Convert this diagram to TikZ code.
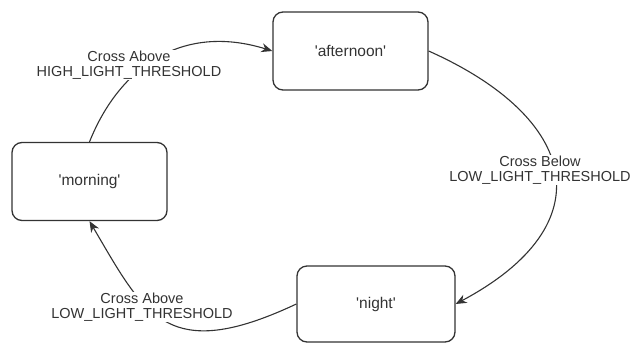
\documentclass[tikz,border=0pt]{standalone}
\usepackage{fontspec}
\setmainfont{Liberation Sans}
\usetikzlibrary{arrows.meta}
\definecolor{ink}{HTML}{333333}
\newcommand{\sq}{\textquotesingle}
\begin{document}
\begin{tikzpicture}[x=1pt,y=-1pt,
  state/.style={draw=ink, line width=1.3pt, rounded corners=10pt,
    minimum width=155pt, minimum height=78pt, inner sep=0pt,
    text=ink, font=\fontsize{15.5}{16}\selectfont},
  trans/.style={draw=ink, line width=1.1pt,
    -{Stealth[length=11pt,width=9pt,inset=3.5pt]}},
  lbl/.style={fill=white, text=ink, align=center, inner sep=0.5pt,
    font=\fontsize{14.5}{15}\selectfont}]
\useasboundingbox (0,0) rectangle (636,343);

% states
\node[state] (aft) at (350.5,51)  {\sq afternoon\sq};
\node[state] (mor) at (89.5,181.5) {\sq morning\sq};
\node[state, minimum width=158pt, minimum height=76pt] (nig) at (376,304) {\sq night\sq};

% transitions
\draw[trans] (mor.north) .. controls +(30,-75) and +(-90,-28) .. (aft.west);
\draw[trans] (aft.east) .. controls +(150,67) and +(150,-80) .. (nig.east);
\draw[trans] (nig.west) .. controls +(-130,61) and +(55,93.5) .. (mor.south);

% transition labels
\node[lbl] (l1) at (129,65)  {Cross Above\\HIGH\_LIGHT\_THRESHOLD};
\node[lbl] (l2) at (540,170) {Cross Below\\LOW\_LIGHT\_THRESHOLD};
\node[lbl] (l3) at (142,307) {Cross Above\\LOW\_LIGHT\_THRESHOLD};
\end{tikzpicture}
\end{document}
